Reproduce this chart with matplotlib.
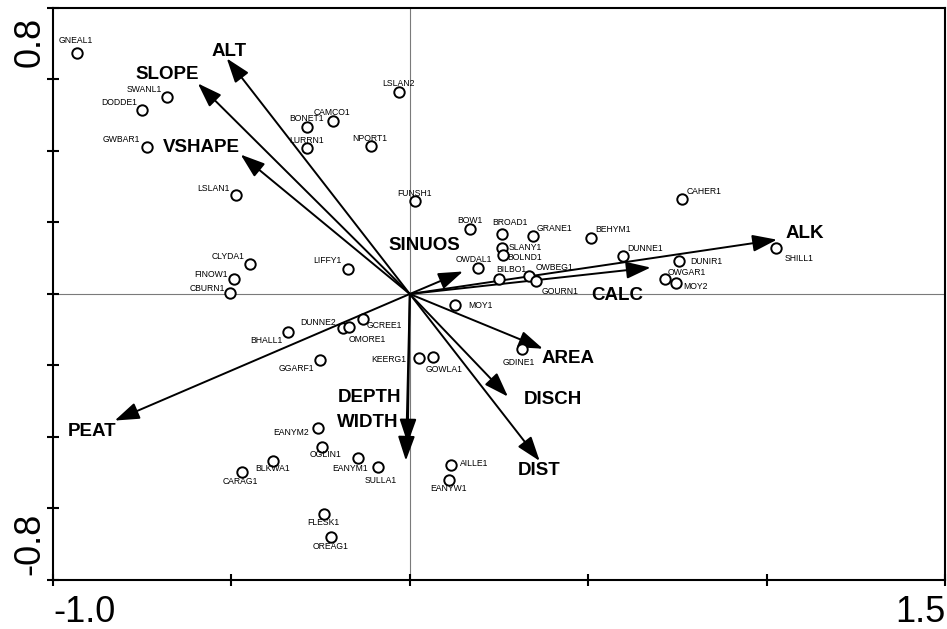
import matplotlib
matplotlib.use("Agg")
import matplotlib.pyplot as plt
from matplotlib.transforms import ScaledTranslation

plt.rcParams["font.family"] = ["Liberation Sans", "DejaVu Sans"]

# Site scores (axis 1, axis 2)
sites = ["GNEAL1", "SWANL1", "DODDE1", "GWBAR1", "LSLAN1", "BONET1", "CAMCO1",
         "LURRN1", "NPORT1", "LSLAN2", "FUNSH1", "BOW1", "BROAD1", "GRANE1",
         "BEHYM1", "CAHER1", "SLANY1", "BOLND1", "OWDAL1", "BILBO1", "OWBEG1",
         "GOURN1", "DUNNE1", "DUNIR1", "OWGAR1", "MOY2", "SHILL1", "LIFFY1",
         "CLYDA1", "FINOW1", "CBURN1", "MOY1", "DUNNE2", "OMORE1", "GCREE1",
         "BHALL1", "GGARF1", "KEERG1", "GOWLA1", "GDINE1", "EANYM2", "OGLIN1",
         "EANYM1", "SULLA1", "BLKWA1", "CARAG1", "AILLE1", "EANYW1", "FLESK1",
         "OREAG1"]
site_x = [-0.933, -0.681, -0.751, -0.737, -0.488, -0.289, -0.216,
          -0.289, -0.109, -0.031, 0.014, 0.168, 0.258, 0.345,
          0.507, 0.762, 0.258, 0.261, 0.191, 0.249, 0.334,
          0.353, 0.597, 0.754, 0.715, 0.746, 1.026, -0.174,
          -0.448, -0.493, -0.504, 0.126, -0.188, -0.171, -0.132,
          -0.342, -0.252, 0.025, 0.064, 0.314, -0.258, -0.247,
          -0.146, -0.090, -0.384, -0.471, 0.115, 0.109, -0.241,
          -0.221]
site_y = [0.675, 0.550, 0.516, 0.410, 0.276, 0.468, 0.483,
          0.407, 0.413, 0.564, 0.259, 0.183, 0.169, 0.161,
          0.158, 0.267, 0.130, 0.110, 0.074, 0.043, 0.049,
          0.035, 0.105, 0.091, 0.041, 0.032, 0.130, 0.071,
          0.083, 0.041, 0.004, -0.032, -0.094, -0.091, -0.069,
          -0.105, -0.186, -0.178, -0.175, -0.155, -0.376, -0.427,
          -0.460, -0.485, -0.467, -0.499, -0.477, -0.519, -0.614,
          -0.681]

# Environmental variable biplot scores
env_vars = ["ALT", "SLOPE", "VSHAPE", "SINUOS", "ALK", "CALC", "AREA",
            "DISCH", "DIST", "DEPTH", "WIDTH", "PEAT"]
env_x = [-0.513, -0.594, -0.474, 0.149, 1.029, 0.675, 0.373,
         0.275, 0.364, -0.006, -0.011, -0.827]
env_y = [0.659, 0.589, 0.390, 0.063, 0.152, 0.074, -0.153,
         -0.287, -0.467, -0.418, -0.466, -0.354]

x_ticks = [-1.0, -0.5, 0.0, 0.5, 1.0, 1.5]
x_tick_labels = ["-1.0", "", "", "", "", "1.5"]
y_ticks = [-0.8, -0.6, -0.4, -0.2, 0.0, 0.2, 0.4, 0.6, 0.8]
y_tick_labels = ["-0.8", "", "", "", "", "", "", "", "0.8"]

# Label placement, in pixels from each point / arrow tip
site_label_offset = {
    "GNEAL1": (-1, 12), "SWANL1": (-23, 8), "DODDE1": (-23, 7), "GWBAR1": (-26, 8),
    "LSLAN1": (-22, 7), "BONET1": (0, 8), "CAMCO1": (-1, 9), "LURRN1": (0, 8),
    "NPORT1": (-1, 8), "LSLAN2": (0, 9), "FUNSH1": (0, 8), "BOW1": (0, 8),
    "BROAD1": (8, 11), "GRANE1": (22, 8), "BEHYM1": (22, 8), "CAHER1": (22, 7),
    "SLANY1": (23, 0), "BOLND1": (22, -3), "OWDAL1": (-4, 8), "BILBO1": (13, 9),
    "OWBEG1": (26, 9), "GOURN1": (24, -10), "DUNNE1": (22, 8), "DUNIR1": (27, 0),
    "OWGAR1": (22, 7), "MOY2": (20, -4), "SHILL1": (23, -11), "LIFFY1": (-20, 8),
    "CLYDA1": (-22, 8), "FINOW1": (-23, 5), "CBURN1": (-23, 4), "MOY1": (26, 0),
    "DUNNE2": (-25, 5), "OMORE1": (18, -13), "GCREE1": (22, -7), "BHALL1": (-21, -9),
    "GGARF1": (-24, -8), "KEERG1": (-30, -2), "GOWLA1": (11, -13), "GDINE1": (-3, -13),
    "EANYM2": (-27, -4), "OGLIN1": (4, -8), "EANYM1": (-8, -10), "SULLA1": (3, -13),
    "BLKWA1": (0, -8), "CARAG1": (-1, -9), "AILLE1": (23, 1), "EANYW1": (0, -9),
    "FLESK1": (0, -9), "OREAG1": (0, -9),
}
env_label_offset = {
    "ALT": (2, 7), "SLOPE": (-31, 9), "VSHAPE": (-39, 7), "SINUOS": (-39, 26),
    "ALK": (28, 6), "CALC": (-33, -28), "AREA": (25, -10), "DISCH": (45, -3),
    "DIST": (-1, -10), "DEPTH": (-38, 46), "WIDTH": (-38, 38), "PEAT": (-23, -11),
}

W, H = 947, 629
fig = plt.figure(figsize=(W / 100, H / 100), dpi=100)
ax = fig.add_axes([53 / W, 1 - 580 / H, (945 - 53) / W, (580 - 8) / H])
ax.set_xlim(-1.0, 1.5)
ax.set_ylim(-0.8, 0.8)

# Zero reference lines
ax.axhline(0, color="#7a7a7a", lw=0.8, zorder=1)
ax.axvline(0, color="#7a7a7a", lw=0.8, zorder=1)

# Environmental arrows
for name, ex, ey in zip(env_vars, env_x, env_y):
    ax.annotate("", xy=(ex, ey), xytext=(0, 0),
                arrowprops=dict(arrowstyle="-|>,head_length=0.75,head_width=0.26",
                                mutation_scale=20, lw=1.4, color="black",
                                shrinkA=0, shrinkB=0),
                zorder=2)
    dx, dy = env_label_offset[name]
    ax.annotate(name, xy=(ex, ey), xytext=(dx, dy), textcoords="offset pixels",
                ha="center", va="center", fontsize=13.5, fontweight="bold",
                zorder=4)

# Sites
ax.plot(site_x, site_y, linestyle="none", marker="o", ms=7.5, mfc="white",
        mec="black", mew=1.4, zorder=3)
for name, sx, sy in zip(sites, site_x, site_y):
    dx, dy = site_label_offset[name]
    ax.annotate(name, xy=(sx, sy), xytext=(dx, dy), textcoords="offset pixels",
                ha="center", va="center", fontsize=6.2, zorder=4)

# Axes frame and ticks
for sp in ax.spines.values():
    sp.set_linewidth(1.5)
ax.tick_params(direction="inout", length=8, width=1.5)
ax.set_xticks(x_ticks, x_tick_labels, fontsize=26)
ax.set_yticks(y_ticks, y_tick_labels, fontsize=26, rotation=90)
ax.tick_params(axis="x", pad=7)
ax.tick_params(axis="y", pad=0)
xl = ax.get_xticklabels()
xl[0].set_ha("left")
xl[-1].set_ha("right")
yl = ax.get_yticklabels()
yl[0].set_va("bottom")
yl[-1].set_va("top")
yl[0].set_transform(yl[0].get_transform()
                    + ScaledTranslation(0, 5 / 100, fig.dpi_scale_trans))
yl[-1].set_transform(yl[-1].get_transform()
                     + ScaledTranslation(0, -9 / 100, fig.dpi_scale_trans))

fig.savefig("out.png", dpi=100)
